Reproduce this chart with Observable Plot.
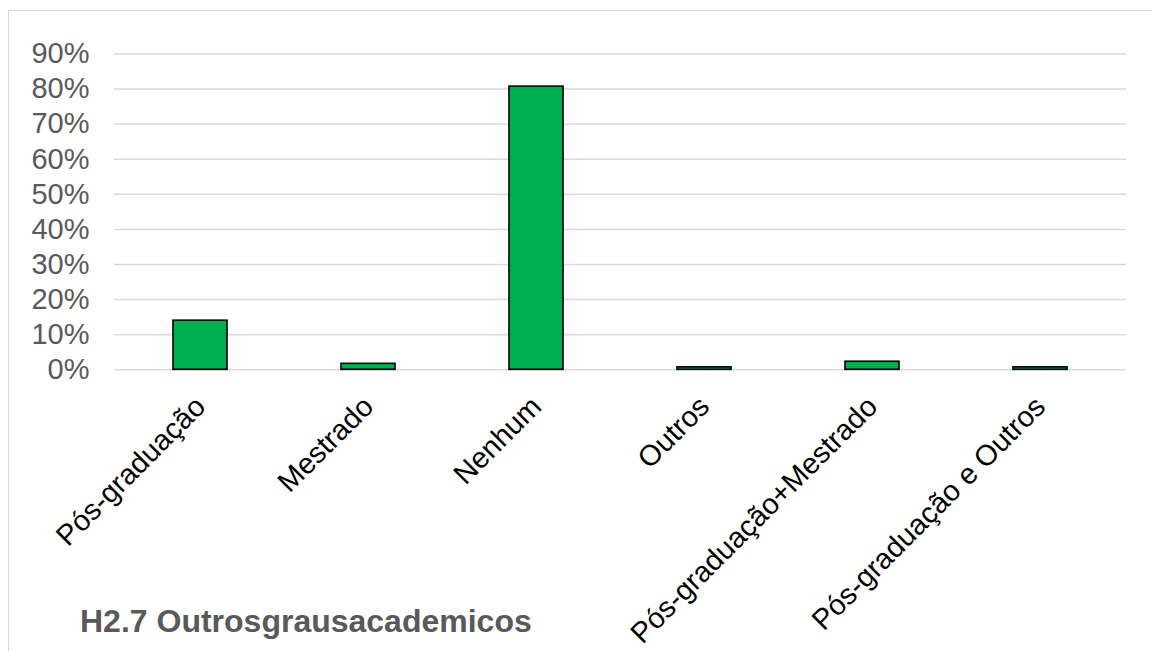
<!DOCTYPE html>
<html>
<head>
<meta charset="utf-8">
<script src="https://cdn.jsdelivr.net/npm/d3@7"></script>
<script src="https://cdn.jsdelivr.net/npm/@observablehq/plot@0.6"></script>
<style>
  html, body { margin: 0; padding: 0; background: #fff; overflow: hidden; width: 1152px; height: 651px; }
  #frame { position: absolute; left: 8px; top: 10px; width: 1300px; height: 800px; border: 1.5px solid #d9d9d9; box-sizing: border-box; }
  #chart { position: absolute; left: 0; top: 0; }
  #title { position: absolute; left: 80px; top: 605px; font-family: "Liberation Sans", Arial, sans-serif; font-weight: bold; font-size: 32px; line-height: 1; color: #595959; white-space: nowrap; }
</style>
</head>
<body>
<div id="frame"></div>
<div id="chart"></div>
<div id="title">H2.7 Outrosgrausacademicos</div>
<script>
const categories = ["Pós-graduação", "Mestrado", "Nenhum", "Outros", "Pós-graduação+Mestrado", "Pós-graduação e Outros"];
const values = [0.140, 0.017, 0.807, 0.007, 0.023, 0.007];
const yTicks = [0, 0.1, 0.2, 0.3, 0.4, 0.5, 0.6, 0.7, 0.8, 0.9];

const data = categories.map((c, i) => ({category: c, value: values[i]}));

const chart = Plot.plot({
  width: 1152,
  height: 651,
  marginLeft: 114,
  marginRight: 26,
  marginTop: 53.5,
  marginBottom: 281.7,
  style: {fontFamily: "'Liberation Sans', Arial, sans-serif", background: "transparent", overflow: "visible"},
  x: {domain: categories, paddingInner: 0.68, paddingOuter: 0.34, label: null},
  y: {domain: [0, 0.9], label: null},
  marks: [
    Plot.gridY(yTicks, {stroke: "#d9d9d9", strokeOpacity: 1, strokeWidth: 1.5}),
    Plot.barY(data, {x: "category", y: "value", fill: "#00b050", stroke: "#000", strokeWidth: 1.6}),
    Plot.axisY(yTicks, {tickSize: 0, tickPadding: 25, tickFormat: d3.format(".0%"), fontSize: 29, fill: "#595959"}),
    Plot.axisX({tickSize: 0, tickPadding: 32, tickRotate: -45, fontSize: 29, fill: "#000"})
  ]
});
document.getElementById("chart").appendChild(chart);
</script>
</body>
</html>
